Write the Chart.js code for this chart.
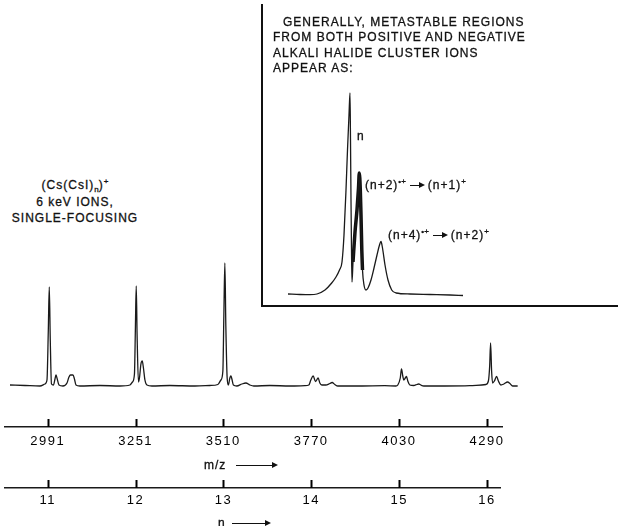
<!DOCTYPE html>
<html lang="en">
<head>
<meta charset="UTF-8">
<script src="https://cdn.jsdelivr.net/npm/chart.js"></script>
<title>Cs(CsI)n cluster ions</title>
<style>
  body { margin: 0; background: #fff; }
  #wrap { position: relative; width: 618px; height: 526px; overflow: hidden; background: #fff;
          font-family: "Liberation Sans", Arial, sans-serif; color: #111; }
  canvas { position: absolute; }
  .txt { position: absolute; font-size: 12px; letter-spacing: 1px; white-space: nowrap; line-height: 15px;
         -webkit-text-stroke: 0.3px #111; }
  sup, sub { font-size: 8px; line-height: 0; letter-spacing: 0; }
  .arr { position: absolute; height: 0; border-top: 1.3px solid #111; }
  .iarr { display: inline-block; position: relative; width: 12px; height: 0; border-top: 1.3px solid #111;
          vertical-align: middle; margin: 0 6px 0 4px; }
  .arr::after, .iarr::after { content: ""; position: absolute; right: -3px; top: -3.6px;
          border-left: 6px solid #111; border-top: 3px solid transparent; border-bottom: 3px solid transparent; }
</style>
</head>
<body>
<div id="wrap">
  <canvas id="spec" width="508" height="134" style="left:10px;top:256px"></canvas>
  <canvas id="inset" width="358" height="305" style="left:260px;top:3px"></canvas>
  <canvas id="mzAxis" width="618" height="50" style="left:0;top:407px"></canvas>
  <canvas id="nAxis" width="618" height="50" style="left:0;top:468px"></canvas>

  <div class="txt" style="left:0;top:177px;width:150px;text-align:center;line-height:16.5px">
    (Cs(CsI)<sub>n</sub>)<sup>+</sup><br>6 keV IONS,<br>SINGLE-FOCUSING
  </div>

  <div class="txt" style="left:273px;top:15px;line-height:15.3px">
    <span style="margin-left:10px">GENERALLY, METASTABLE REGIONS</span><br>FROM BOTH POSITIVE AND NEGATIVE<br>ALKALI HALIDE CLUSTER IONS<br>APPEAR AS:
  </div>
  <div class="txt" style="left:357px;top:128.5px">n</div>
  <div class="txt" style="left:365px;top:177.5px">(n+2)<sup>•+</sup><span class="iarr"></span>(n+1)<sup>+</sup></div>
  <div class="txt" style="left:388px;top:227.5px">(n+4)<sup>•+</sup><span class="iarr"></span>(n+2)<sup>+</sup></div>

  <div class="txt" style="left:204px;top:457.5px">m/z</div>
  <div class="arr" style="left:236px;top:465px;width:39px"></div>
  <div class="txt" style="left:218px;top:515.5px">n</div>
  <div class="arr" style="left:232px;top:523px;width:36px"></div>
</div>

<script>
  // main trace: m/z vs relative intensity
  const mz = [2879.5, 2923.9, 2968.2, 2983.0, 2988.9, 2992.8, 2995.7, 2998.7, 3002.2, 3008.2,
    3012.6, 3015.5, 3018.5, 3024.4, 3036.2, 3048.1, 3054.0, 3058.4, 3065.8, 3070.2,
    3074.7, 3086.1, 3145.6, 3204.8,
    3234.4, 3241.8, 3247.7, 3250.6, 3253.0, 3255.6, 3259.5, 3262.5, 3266.9, 3270.7,
    3274.3, 3278.7, 3284.6, 3299.4, 3352.6, 3426.6, 3471.0,
    3494.5, 3503.4, 3509.3, 3512.2, 3515.2, 3518.1, 3522.0, 3525.6, 3530.0, 3533.0,
    3536.0, 3540.4, 3550.7, 3565.5, 3577.4, 3589.2, 3601.0, 3648.3, 3707.5, 3751.8,
    3763.7, 3769.6, 3776.4, 3783.5, 3791.2, 3796.2, 3802.1, 3813.9, 3825.8, 3832.6,
    3840.5, 3849.4, 3914.4, 3988.4, 4021.0,
    4026.9, 4034.2, 4037.8, 4041.6, 4044.6, 4049.0, 4052.6, 4056.4, 4062.3, 4074.2,
    4083.0, 4088.9, 4094.8, 4103.7, 4165.8, 4239.7, 4275.2,
    4287.5, 4294.9, 4298.7, 4301.4, 4304.4, 4307.3, 4312.6, 4319.1, 4324.5, 4331.9,
    4340.8, 4351.7, 4358.5, 4366.5, 4381.5];
  const intensity = [1, 0.5, 0, 2, 6, 55, 99, 45, 2, 1,
    7, 11, 8, 1, 0, 3, 9, 11, 11, 7,
    1, 0, 0.5, 0,
    1, 4, 12, 60, 100, 50, 4, 8, 22, 25,
    18, 6, 1, 0, 0.5, 0, 0.5,
    1.5, 6, 15, 70, 123, 60, 8, 1, 8, 10,
    7, 1, 0, 2, 3, 1, 0, 0.5, 0, 0.3,
    1, 6, 10, 4.5, 8, 3, 1, 1, 2.5, 3.5,
    1.5, 0, 0, 0.3, 0,
    1, 8, 17, 10, 6, 8, 9.5, 5, 1, 0.5,
    1.5, 2, 1, 0, 0, 0.3, 1,
    1.5, 5, 20, 43, 15, 3, 5, 9.5, 5, 1,
    2, 4, 2.5, 0, 0];

  // inset sketch (arbitrary units)
  const insetX = [26, 38, 48, 55, 63, 69.7, 74, 77.5, 80, 82, 84, 85.5, 87, 88, 88.5, 89, 89.5, 90,
    91, 93, 95, 96.5, 97.3, 98.3, 99, 99.8, 100.5, 102, 104, 106, 109, 112, 115, 117.5, 119,
    120.5, 123, 126, 129.7, 134, 148, 168, 188, 201];
  const insetY = [12, 11.5, 11.3, 12, 16, 23, 29, 36, 44, 71, 116, 156, 191, 213, 166, 106, 56, 24,
    44, 74, 96, 118, 133, 116, 91, 56, 36, 21, 16, 18, 26, 38, 51, 61, 64.5,
    58, 41, 26, 16, 13, 12, 11.5, 11, 10.5];
  // heavy-pen metastable peak (n+2)
  const metaX = [91, 93, 95, 96.5, 97.3, 98.3, 99, 99.8, 100.5];
  const metaY = [44, 74, 96, 118, 133, 116, 91, 56, 36];

  const mzTicks = [2991, 3251, 3510, 3770, 4030, 4290];
  const nTicks = [11, 12, 13, 14, 15, 16];

  Chart.defaults.font.family = '"Liberation Sans", Arial, sans-serif';
  Chart.defaults.color = '#111';
  Chart.defaults.animation = false;
  Chart.defaults.responsive = false;
  Chart.defaults.plugins.legend.display = false;
  Chart.defaults.plugins.tooltip.enabled = false;

  const toPoints = (xs, ys) => xs.map((x, i) => ({ x: x, y: ys[i] }));

  new Chart(document.getElementById('spec'), {
    type: 'line',
    data: { datasets: [{ data: toPoints(mz, intensity), borderColor: '#1a1a1a', borderWidth: 1.3,
      pointRadius: 0, cubicInterpolationMode: 'monotone' }] },
    options: {
      layout: { padding: 0 },
      scales: {
        x: { type: 'linear', display: false, min: 2879.5, max: 4382.5 },
        y: { display: false, min: -4, max: 130 }
      }
    }
  });

  new Chart(document.getElementById('inset'), {
    type: 'line',
    data: { datasets: [
      { data: toPoints(insetX, insetY), borderColor: '#1a1a1a', borderWidth: 1.3, pointRadius: 0,
        cubicInterpolationMode: 'monotone' },
      { data: toPoints(metaX, metaY), borderColor: '#111', borderWidth: 3.5, pointRadius: 0,
        cubicInterpolationMode: 'monotone' }
    ] },
    options: {
      layout: { padding: { left: 2, top: 2, bottom: 2, right: 0 } },
      scales: {
        x: { type: 'linear', min: 0, max: 356, grid: { display: false, drawTicks: false },
          ticks: { display: false }, border: { color: '#111', width: 2 } },
        y: { min: 0, max: 301, grid: { display: false, drawTicks: false },
          ticks: { display: false }, border: { color: '#111', width: 2 } }
      }
    }
  });

  // short upward tick marks sitting on the axis line
  const tickMarks = {
    id: 'tickMarks',
    beforeDraw(c) {
      c.ctx.letterSpacing = '1.5px';
    },
    afterDraw(c) {
      const s = c.scales.x, ctx = c.ctx, base = s.top;
      ctx.save();
      ctx.letterSpacing = '0px';
      ctx.strokeStyle = '#000';
      ctx.lineWidth = 2;
      s.ticks.forEach(t => {
        const x = Math.round(s.getPixelForValue(t.value)) + 0.5;
        ctx.beginPath();
        ctx.moveTo(x, base);
        ctx.lineTo(x, base - 8);
        ctx.stroke();
      });
      ctx.restore();
    }
  };

  function axisChart(id, min, max, ticks, right, pad) {
    return new Chart(document.getElementById(id), {
      type: 'line',
      data: { datasets: [] },
      options: {
        layout: { padding: { left: 5, right: right, top: 10, bottom: 0 } },
        scales: {
          x: {
            type: 'linear', min: min, max: max,
            afterBuildTicks: s => { s.ticks = ticks.map(v => ({ value: v })); },
            afterFit: s => { s.height = 30; },
            grid: { display: false, drawTicks: false },
            border: { color: '#1a1a1a', width: 1.5 },
            ticks: { padding: pad, font: { size: 13 }, color: '#000', maxRotation: 0, autoSkip: false,
              callback: v => String(v) }
          },
          y: { display: false, min: 0, max: 1 }
        }
      },
      plugins: [tickMarks]
    });
  }

  axisChart('mzAxis', 2864.7, 4334.4, mzTicks, 116, 6.5);
  axisChart('nAxis', 10.514, 16.148, nTicks, 118, 4.7);
</script>
</body>
</html>
